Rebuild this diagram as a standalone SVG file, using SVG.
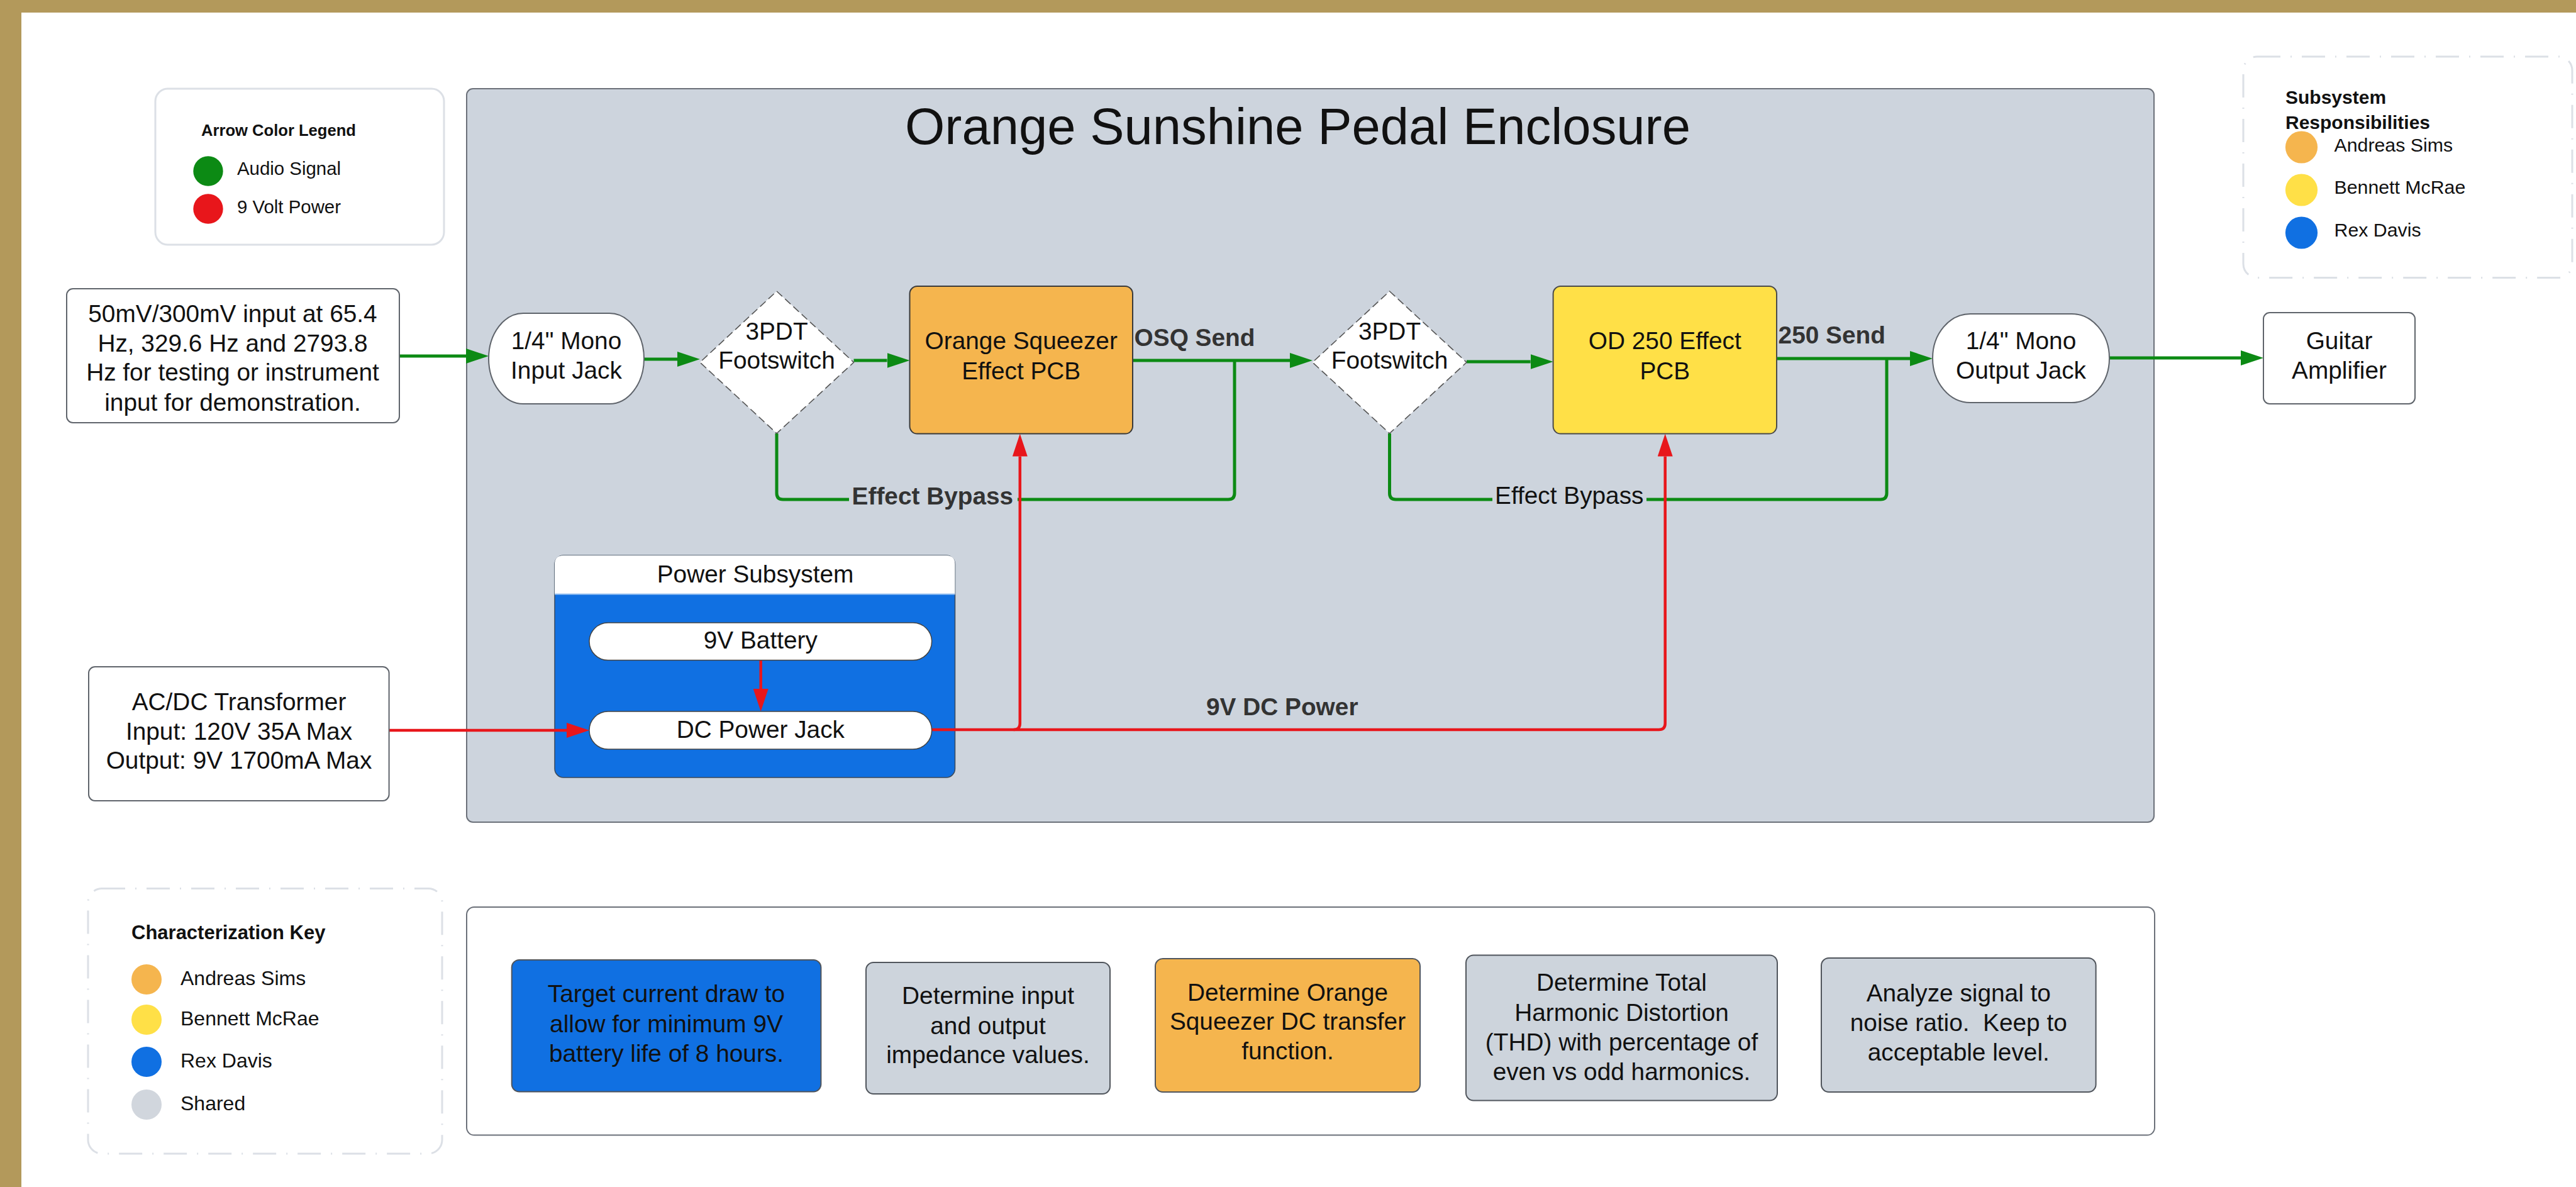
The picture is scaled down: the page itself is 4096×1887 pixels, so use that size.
<svg xmlns="http://www.w3.org/2000/svg" width="4096" height="1887" viewBox="0 0 4096 1887">
<defs>
<style>
text{font-family:"Liberation Sans",Arial,Helvetica,sans-serif;fill:#111}
.c{text-anchor:middle;font-size:38.8px}
.b{font-weight:bold;fill:#333;font-size:38.8px}
.g{fill:none;stroke:#0C8A14;stroke-width:5}
.r{fill:none;stroke:#E8161B;stroke-width:4.5}
.nd{stroke:#5f646b;stroke-width:2}
.dd{fill:#fff;stroke:#DCE0E6;stroke-width:3;stroke-dasharray:37 16 2 16}
.dia{fill:#fff;stroke:#555;stroke-width:1.6;stroke-dasharray:12 6}
.pill{fill:#fff;stroke:#444;stroke-width:1.5}
.task{stroke:#50555c;stroke-width:2}
.leg{font-size:29.4px}
.key{font-size:32px}
.sub{font-size:30.3px}
</style>
<marker id="ag" markerUnits="userSpaceOnUse" markerWidth="36" markerHeight="24" viewBox="0 0 36 24" refX="0" refY="12" orient="auto"><path d="M0,0 L36,12 L0,24 Z" fill="#0C8A14"/></marker>
<marker id="ar" markerUnits="userSpaceOnUse" markerWidth="36" markerHeight="24" viewBox="0 0 36 24" refX="0" refY="12" orient="auto"><path d="M0,0 L36,12 L0,24 Z" fill="#E8161B"/></marker>
</defs>

<rect x="0" y="0" width="4096" height="1887" fill="#fff"/>
<rect x="0" y="0" width="4096" height="20" fill="#B3995B"/>
<rect x="0" y="0" width="34" height="1887" fill="#B3995B"/>

<g id="enclosure">
<rect x="742" y="141" width="2683" height="1166" rx="10" fill="#CDD4DD" stroke="#6B7079" stroke-width="2"/>
<text x="2063.5" y="229" text-anchor="middle" font-size="81.5" textLength="1249" lengthAdjust="spacingAndGlyphs">Orange Sunshine Pedal Enclosure</text>
</g>

<g id="arrow-legend">
<rect x="247" y="141" width="459" height="248" rx="20" fill="#fff" stroke="#DCE0E6" stroke-width="3"/>
<text x="320" y="216" font-size="25.6" font-weight="bold">Arrow Color Legend</text>
<circle cx="331" cy="272" r="23.7" fill="#0C8A14"/>
<text class="leg" x="377" y="278">Audio Signal</text>
<circle cx="331" cy="332" r="23.7" fill="#E8161B"/>
<text class="leg" x="377" y="339">9 Volt Power</text>
</g>

<g id="subsystem-responsibilities">
<rect class="dd" x="3567" y="90" width="523" height="351.5" rx="22"/>
<text x="3634" y="165" font-size="30" font-weight="bold">Subsystem</text>
<text x="3634" y="204.6" font-size="30" font-weight="bold">Responsibilities</text>
<circle cx="3659.5" cy="234" r="25.6" fill="#F5B54E"/>
<text class="sub" x="3711.5" y="240.6">Andreas Sims</text>
<circle cx="3659.5" cy="302" r="25.6" fill="#FFE047"/>
<text class="sub" x="3711.5" y="308">Bennett McRae</text>
<circle cx="3659.5" cy="370" r="25.6" fill="#1070E2"/>
<text class="sub" x="3711.5" y="376">Rex Davis</text>
</g>

<g id="characterization-key">
<rect class="dd" x="140" y="1412.5" width="563" height="421.5" rx="22"/>
<text x="209" y="1493" font-size="31" font-weight="bold">Characterization Key</text>
<circle cx="233" cy="1557" r="24" fill="#F5B54E"/>
<text class="key" x="287" y="1566">Andreas Sims</text>
<circle cx="233" cy="1621" r="24" fill="#FFE047"/>
<text class="key" x="287" y="1630">Bennett McRae</text>
<circle cx="233" cy="1688" r="24" fill="#1070E2"/>
<text class="key" x="287" y="1697">Rex Davis</text>
<circle cx="233" cy="1756" r="24" fill="#D1D6DD"/>
<text class="key" x="287" y="1765">Shared</text>
</g>

<g id="power-subsystem">
<rect x="882" y="883" width="636.5" height="353" rx="14" fill="#1070E2" stroke="#3b4a5c" stroke-width="1.5"/>
<path d="M882,944.5 V897 Q882,883 896,883 H1504.5 Q1518.5,883 1518.5,897 V944.5 Z" fill="#fff"/>
<line x1="882" y1="944.5" x2="1518.5" y2="944.5" stroke="#9cc3f2" stroke-width="2"/>
<text class="c" x="1201" y="925.5">Power Subsystem</text>
</g>

<g id="connectors">
<path class="g" d="M635,566 H741" marker-end="url(#ag)"/>
<path class="g" d="M1024,571 H1077" marker-end="url(#ag)"/>
<path class="g" d="M1357.5,573 H1410.5" marker-end="url(#ag)"/>
<path class="g" d="M1801,573 H2051" marker-end="url(#ag)"/>
<path class="g" d="M2332,575 H2433.6" marker-end="url(#ag)"/>
<path class="g" d="M2825,570 H3037" marker-end="url(#ag)"/>
<path class="g" d="M3354,569 H3563" marker-end="url(#ag)"/>
<path class="g" d="M1235,689 V784 Q1235,794 1245,794 H1953 Q1963,794 1963,784 V573"/>
<path class="g" d="M2209.5,689 V784 Q2209.5,794 2219.5,794 H2990 Q3000,794 3000,784 V570"/>
<rect x="1350" y="770" width="268" height="42" fill="#CDD4DD"/>
<text class="b" x="1354.6" y="802">Effect Bypass</text>
<rect x="2373" y="770" width="245" height="42" fill="#CDD4DD"/>
<text x="2377" y="801.4" font-size="38.8" fill="#1a1a1a">Effect Bypass</text>
<text class="b" x="1803.6" y="550">OSQ Send</text>
<text class="b" x="2827.6" y="545.6">250 Send</text>
<text class="b" x="1918" y="1137">9V DC Power</text>
<path class="r" d="M618.6,1161 H901" marker-end="url(#ar)"/>
<path class="r" d="M1209.7,1049.6 V1095" stroke-width="3.5" marker-end="url(#ar)"/>
<path class="r" d="M1481.6,1160 H2637.7 Q2647.7,1160 2647.7,1150 V725.6" marker-end="url(#ar)"/>
<path class="r" d="M1611.8,1160 Q1621.8,1160 1621.8,1150 V725.6" marker-end="url(#ar)"/>
</g>

<g id="input-signal">
<rect class="nd" x="106" y="459" width="529" height="213" rx="10" fill="#fff"/>
<text class="c" x="370" y="511.5">50mV/300mV input at 65.4</text>
<text class="c" x="370" y="559">Hz, 329.6 Hz and 2793.8</text>
<text class="c" x="370" y="605.3">Hz for testing or instrument</text>
<text class="c" x="370" y="652.7">input for demonstration.</text>
</g>

<g id="input-jack">
<rect class="nd" x="777" y="498" width="247" height="144" rx="55" ry="72" fill="#fff"/>
<text class="c" x="900.5" y="555">1/4" Mono</text>
<text class="c" x="900.5" y="601.5">Input Jack</text>
</g>

<g id="footswitch-1">
<polygon class="dia" points="1235,463 1357.5,576 1235,689 1113,576"/>
<text class="c" x="1235" y="540">3PDT</text>
<text class="c" x="1235" y="586">Footswitch</text>
</g>

<g id="osq-pcb">
<rect x="1446.5" y="455" width="354.5" height="234.6" rx="12" fill="#F5B54E" stroke="#3a3a3a" stroke-width="2"/>
<text class="c" x="1623.7" y="555">Orange Squeezer</text>
<text class="c" x="1623.7" y="603">Effect PCB</text>
</g>

<g id="footswitch-2">
<polygon class="dia" points="2209.5,463 2332,576 2209.5,689 2087,576"/>
<text class="c" x="2209.5" y="540">3PDT</text>
<text class="c" x="2209.5" y="586">Footswitch</text>
</g>

<g id="od250-pcb">
<rect x="2469.6" y="455" width="355.4" height="234.6" rx="12" fill="#FFE047" stroke="#4a4a4a" stroke-width="2"/>
<text class="c" x="2647.3" y="555">OD 250 Effect</text>
<text class="c" x="2647.3" y="603">PCB</text>
</g>

<g id="output-jack">
<rect class="nd" x="3073" y="499" width="281" height="141" rx="60" ry="70.5" fill="#fff"/>
<text class="c" x="3213.5" y="555">1/4" Mono</text>
<text class="c" x="3213.5" y="601.5">Output Jack</text>
</g>

<g id="guitar-amplifier">
<rect class="nd" x="3599" y="497" width="241" height="145" rx="10" fill="#fff"/>
<text class="c" x="3719.5" y="555">Guitar</text>
<text class="c" x="3719.5" y="601.5">Amplifier</text>
</g>

<g id="battery">
<rect class="pill" x="937" y="990" width="544.6" height="59.6" rx="29.8"/>
<text class="c" x="1209.3" y="1030.7">9V Battery</text>
</g>

<g id="dc-power-jack">
<rect class="pill" x="937" y="1131" width="544.6" height="60" rx="30"/>
<text class="c" x="1209.3" y="1172.7">DC Power Jack</text>
</g>

<g id="acdc-transformer">
<rect class="nd" x="141" y="1060" width="477.6" height="213" rx="10" fill="#fff"/>
<text class="c" x="380" y="1129">AC/DC Transformer</text>
<text class="c" x="380" y="1175.6">Input: 120V 35A Max</text>
<text class="c" x="380" y="1222">Output: 9V 1700mA Max</text>
</g>

<g id="tasks">
<rect x="742" y="1442" width="2684" height="362.6" rx="12" fill="#fff" stroke="#6B7079" stroke-width="2"/>
<g id="task-current-draw">
<rect class="task" x="813.7" y="1526" width="491.7" height="209.5" rx="12" fill="#1070E2"/>
<text class="c" x="1059.5" y="1593">Target current draw to</text>
<text class="c" x="1059.5" y="1640.7">allow for minimum 9V</text>
<text class="c" x="1059.5" y="1688">battery life of 8 hours.</text>
</g>
<g id="task-impedance">
<rect class="task" x="1377" y="1530" width="388" height="209" rx="12" fill="#CDD4DC"/>
<text class="c" x="1571" y="1596">Determine input</text>
<text class="c" x="1571" y="1643.6">and output</text>
<text class="c" x="1571" y="1690">impedance values.</text>
</g>
<g id="task-transfer">
<rect class="task" x="1837" y="1524" width="421" height="212" rx="12" fill="#F5B54E"/>
<text class="c" x="2047.5" y="1590.5">Determine Orange</text>
<text class="c" x="2047.5" y="1637">Squeezer DC transfer</text>
<text class="c" x="2047.5" y="1684">function.</text>
</g>
<g id="task-thd">
<rect class="task" x="2331" y="1518.5" width="495" height="231" rx="12" fill="#CDD4DC"/>
<text class="c" x="2578.5" y="1575.4">Determine Total</text>
<text class="c" x="2578.5" y="1622.7">Harmonic Distortion</text>
<text class="c" x="2578.5" y="1670">(THD) with percentage of</text>
<text class="c" x="2578.5" y="1717.4">even vs odd harmonics.</text>
</g>
<g id="task-snr">
<rect class="task" x="2896" y="1523" width="436.6" height="213" rx="12" fill="#CDD4DC"/>
<text class="c" x="3114.3" y="1591.5">Analyze signal to</text>
<text class="c" x="3114.3" y="1639" xml:space="preserve" style="white-space:pre">noise ratio.  Keep to</text>
<text class="c" x="3114.3" y="1686">acceptable level.</text>
</g>
</g>
</svg>
